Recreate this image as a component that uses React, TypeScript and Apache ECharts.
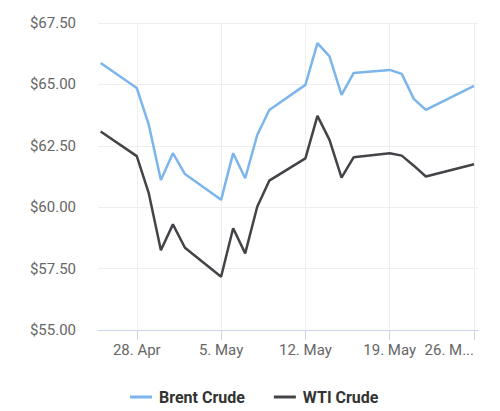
import React, { useEffect, useRef } from 'react';
import * as echarts from 'echarts';

const dates = [
  '2025-04-25', '2025-04-28', '2025-04-29', '2025-04-30', '2025-05-01', '2025-05-02',
  '2025-05-05', '2025-05-06', '2025-05-07', '2025-05-08', '2025-05-09',
  '2025-05-12', '2025-05-13', '2025-05-14', '2025-05-15', '2025-05-16',
  '2025-05-19', '2025-05-20', '2025-05-21', '2025-05-22', '2025-05-26',
];
const brentCrude = [
  65.87, 64.85, 63.35, 61.11, 62.2, 61.35,
  60.3, 62.2, 61.18, 62.94, 63.96,
  64.98, 66.68, 66.14, 64.57, 65.46,
  65.59, 65.43, 64.41, 63.96, 64.94,
];
const wtiCrude = [
  63.08, 62.08, 60.56, 58.25, 59.3, 58.35,
  57.17, 59.14, 58.12, 60.02, 61.08,
  61.99, 63.72, 62.74, 61.2, 62.03,
  62.2, 62.1, 61.69, 61.25, 61.75,
];
const tickDates = ['2025-04-28', '2025-05-05', '2025-05-12', '2025-05-19', '2025-05-26'];
const tickLabels = ['28. Apr', '5. May', '12. May', '19. May', '26. M...'];
const seriesNames = ['Brent Crude', 'WTI Crude'];

const DAY = 86400000;
const toTs = (d: string) => Date.UTC(+d.slice(0, 4), +d.slice(5, 7) - 1, +d.slice(8, 10));

export default function App() {
  const ref = useRef<HTMLDivElement>(null);
  useEffect(() => {
    const chart = echarts.init(ref.current!, null, { renderer: 'svg' });
    const tickTs = tickDates.map(toTs);
    chart.setOption({
      animation: false,
      backgroundColor: '#ffffff',
      textStyle: { fontFamily: 'Roboto' },
      grid: { left: 98, right: 22, top: 23, bottom: 81, containLabel: false },
      legend: {
        left: 125,
        top: 384,
        icon: 'rect',
        itemWidth: 22,
        itemHeight: 3,
        itemGap: 29,
        data: seriesNames,
        textStyle: { fontSize: 16, fontWeight: 'bold', color: '#333333', fontFamily: 'Roboto', padding: [0, 0, 0, 2] },
      },
      xAxis: {
        type: 'value',
        min: tickTs[0] - 3.22 * DAY,
        max: tickTs[tickTs.length - 1] + 0.33 * DAY,
        axisLine: { show: true, onZero: false, lineStyle: { color: '#ccd6eb', width: 1 } },
        axisTick: { show: true, length: 10, lineStyle: { color: '#ccd6eb' }, customValues: tickTs },
        axisLabel: {
          customValues: tickTs,
          formatter: (v: number) => {
            const i = tickTs.findIndex((t) => Math.abs(t - v) < 1000);
            return i >= 0 ? tickLabels[i] : '';
          },
          fontSize: 15,
          color: '#666666',
          margin: 12,
          alignMaxLabel: 'right',
        },
        splitLine: { show: true, lineStyle: { color: '#eeeeee', width: 1 } },
      },
      yAxis: {
        type: 'value',
        min: 55,
        max: 67.5,
        interval: 2.5,
        axisLine: { show: false },
        axisTick: { show: false },
        axisLabel: {
          formatter: (v: number) => '$' + v.toFixed(2),
          fontSize: 15,
          color: '#666666',
          margin: 22,
        },
        splitLine: { show: true, lineStyle: { color: '#eeeeee', width: 1 } },
      },
      series: [
        {
          name: seriesNames[0],
          type: 'line',
          symbol: 'none',
          showSymbol: false,
          data: dates.map((d, i) => [toTs(d), brentCrude[i]]),
          lineStyle: { width: 2.5, color: '#7cb5ec' },
          itemStyle: { color: '#7cb5ec' },
        },
        {
          name: seriesNames[1],
          type: 'line',
          symbol: 'none',
          showSymbol: false,
          data: dates.map((d, i) => [toTs(d), wtiCrude[i]]),
          lineStyle: { width: 2.5, color: '#434348' },
          itemStyle: { color: '#434348' },
        },
      ],
    });
    return () => chart.dispose();
  }, []);
  return (
    <div
      ref={ref}
      style={{ position: 'fixed', left: 0, top: 0, width: 500, height: 411, background: '#fff' }}
    />
  );
}
